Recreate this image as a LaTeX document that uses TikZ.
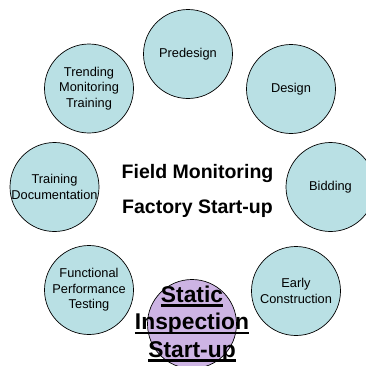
\documentclass[tikz,border=0pt]{standalone}
\usepackage{fontspec}
\setmainfont{Liberation Sans}
\usetikzlibrary{positioning}
\definecolor{phasefill}{RGB}{185,224,228}
\definecolor{nowfill}{RGB}{205,180,228}
\newcommand{\nowul}[1]{\setbox0=\hbox{#1}\rlap{\rule[-4.2pt]{\wd0}{2.2pt}}\box0}

\begin{document}
\begin{tikzpicture}[
    x=1pt,y=1pt,
    phase/.style={circle,minimum size=89pt,inner sep=0pt,draw,line width=0.7pt,fill=phasefill},
    txt/.style={align=center,inner sep=0pt,font=\fontsize{12.8}{15.5}\selectfont}]
    \clip (0,0) rectangle (366,-365);
    \node[label={[txt]center:Predesign},phase] (PD) at (188,-54) {};
    \node[label={[txt]center:Design},phase] (DS) at (291,-89) {};
    \node[label={[txt]center:Bidding},phase] (BD) at (330.5,-187) {};
    \node[label={[txt]center:Early\\Construction},phase] (EC) at (296,-291) {};
    \node[label={[txt]center:Functional\\Performance\\Testing},phase] (FP) at (89,-290) {};
    \node[label={[txt]center:Training\\Documentation},phase] (TD) at (54.5,-187) {};
    \node[label={[txt]center:Trending\\Monitoring\\Training},phase] (TM) at (89,-88.5) {};

    \node[align=center,inner sep=0pt,font=\fontsize{19.5}{35}\selectfont\bfseries] (FM) at (197.5,-190.5) {Field Monitoring\\Factory Start-up};

    \node[label={[txt,font=\fontsize{22.8}{27.5}\selectfont\bfseries]center:\nowul{Static}\\\nowul{Inspection}\\\nowul{Start-up}},phase,fill=nowfill] (SI) at (192,-324) {};
  \end{tikzpicture}
\end{document}
